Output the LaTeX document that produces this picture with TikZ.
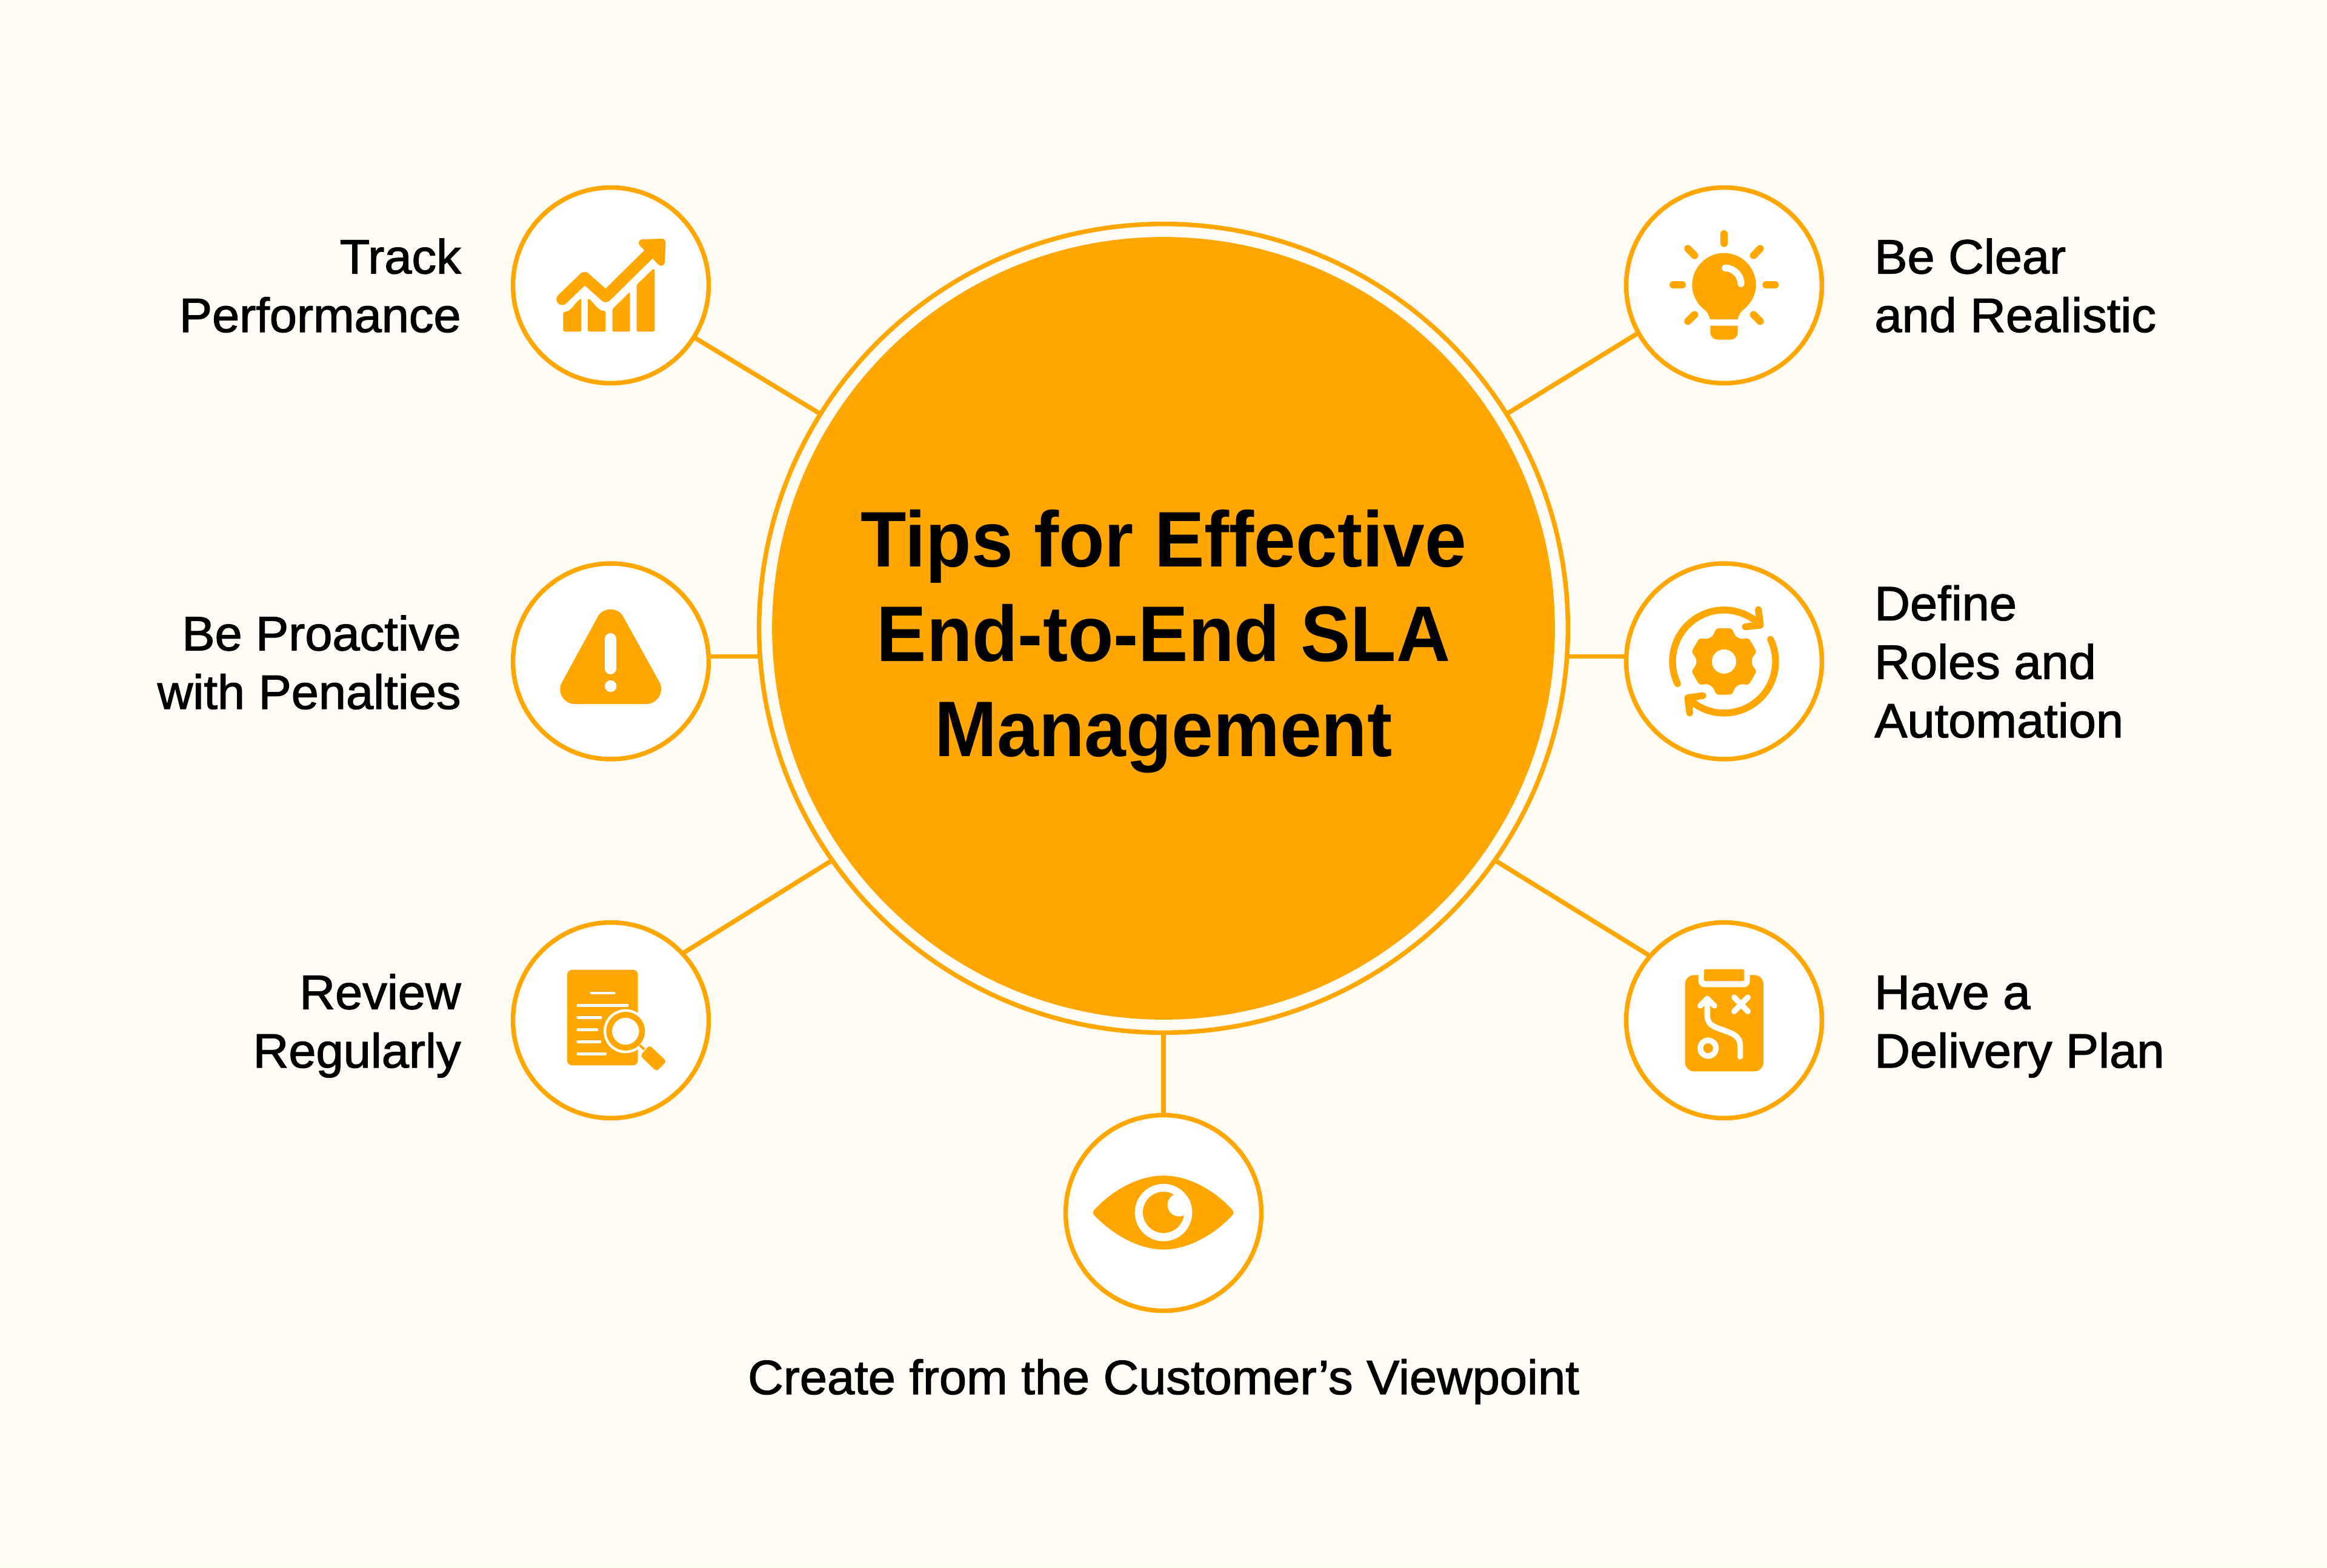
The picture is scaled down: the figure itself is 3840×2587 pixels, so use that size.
\documentclass[tikz,border=0pt]{standalone}
\usepackage{fontspec}
\setmainfont{Liberation Sans}
\newfontfamily\labelfont[FakeBold=1.6, FakeStretch=1.02]{Liberation Sans}
\newfontfamily\titlefont[FakeStretch=0.95]{Liberation Sans Bold}
\definecolor{tipsorange}{HTML}{FFA700}
\definecolor{tipspaper}{HTML}{FFFCF5}
\tikzset{
  corehub/.style={circle, fill=tipsorange, inner sep=0pt, outer sep=0pt, minimum size=25.84cm},
  corering/.style={circle, draw=tipsorange, line width=0.15cm, inner sep=0pt, outer sep=0pt, minimum size=26.70cm},
  badge/.style={circle, draw=tipsorange, fill=white, line width=0.15cm, inner sep=0pt, outer sep=0pt, minimum size=6.46cm},
  link/.style={draw=tipsorange, line width=0.15cm},
  leftlabel/.style={anchor=base east, align=right, inner sep=0pt, font=\labelfont\fontsize{45.3}{55}\selectfont},
  rightlabel/.style={anchor=base west, align=left, inner sep=0pt, font=\labelfont\fontsize{45.3}{55}\selectfont},
  midlabel/.style={anchor=base, align=center, inner sep=0pt, font=\labelfont\fontsize{45.3}{55}\selectfont},
  headline/.style={anchor=base, align=center, inner sep=0pt, font=\titlefont\fontsize{74}{89}\selectfont},
  zoomed/.style={x=0.006667cm, y=-0.006667cm},
  orangeline/.style={draw=tipsorange, line cap=round, line join=round},
  whiteline/.style={draw=white, line cap=round, line join=round}
}
\begin{document}
\begin{tikzpicture}[x=0.02cm, y=-0.02cm]
    \fill[tipspaper] (0,0) rectangle (3840,2587);
    \useasboundingbox (0,0) rectangle (3840,2587);

    \node[corering] (ring) at (1920,1037) {};
    \node[corehub] (core) at (1920,1037) {};

    \node[badge] (track) at (1008,471) {};
    \node[badge] (proactive) at (1008,1091.5) {};
    \node[badge] (review) at (1008,1684) {};
    \node[badge] (viewpoint) at (1920,2002) {};
    \node[badge] (clear) at (2845,471) {};
    \node[badge] (roles) at (2845,1091.5) {};
    \node[badge] (plan) at (2845,1684) {};

    \draw[link] (track.-32) -- (ring.148.1);
    \draw[link] (ring.184.75 -| proactive.east) -- (ring.184.75);
    \draw[link] (review.43.3) -- (ring.215.5);
    \draw[link] (viewpoint.90) -- (ring.270);
    \draw[link] (clear.209.5) -- (ring.32.1);
    \draw[link] (ring.-4.75 -| roles.west) -- (ring.-4.75);
    \draw[link] (plan.139.4) -- (ring.-35.5);

    % track
    \begin{scope}[shift={(track)}, zoomed, shift={(-534,-543)}]
      \draw[orangeline, line width=0.38cm] (293,612) -- (404,505) -- (509,598) -- (735,375);
      \fill[orangeline, fill=tipsorange, line width=0.24cm] (690,333) -- (787,330) -- (783,428) -- cycle;
      \fill[tipsorange, rounded corners=0.05cm] (298,675) .. controls (340,672) and (350,635) .. (387,607) -- (387,772) -- (298,772) -- cycle;
      \fill[tipsorange, rounded corners=0.05cm] (420,607) .. controls (450,625) and (465,668) .. (508,670) -- (508,772) -- (420,772) -- cycle;
      \fill[tipsorange, rounded corners=0.05cm] (542,660) -- (629,575) -- (629,772) -- (542,772) -- cycle;
      \fill[tipsorange, rounded corners=0.05cm] (662,540) -- (745,460) -- (751,466) -- (751,772) -- (662,772) -- cycle;
    \end{scope}

    % warning
    \begin{scope}[shift={(proactive)}, zoomed, shift={(-534,-544)}]
      \fill[tipsorange] (470,322) .. controls (495,275) and (570,275) .. (595,322) -- (775,648) .. controls (800,695) and (765,755) .. (710,755) -- (355,755) .. controls (300,755) and (265,695) .. (292,648) -- cycle;
      \draw[whiteline, line width=0.38cm] (533,433) -- (533,580);
      \fill[white] (533,667) circle [radius=29];
    \end{scope}

    % document and lens
    \begin{scope}[shift={(review)}, zoomed, shift={(-534,-552)}]
      \fill[tipsorange, rounded corners=0.16cm] (318,302) rectangle (668,775);
      \foreach \xa/\xb/\yy in {437/550/417, 371/616/478, 371/484/538, 371/465/598, 371/480/658, 371/506/718}
        \draw[whiteline, line width=0.09cm] (\xa,\yy) -- (\xb,\yy);
      \fill[white] (607,606) circle [radius=109];
      \draw[tipsorange, line width=0.193cm] (607,606) circle [radius=81.5];
      \draw[tipsorange, line width=0.08cm] (677,675) -- (700,697);
      \fill[tipsorange, rounded corners=0.09cm] (725,675) -- (810,755) -- (760,805) -- (680,728) -- cycle;
    \end{scope}

    % eye
    \begin{scope}[shift={(viewpoint)}, zoomed, shift={(-540,-546)}]
      \fill[tipsorange] (198,530) .. controls (290,430) and (420,361) .. (540,361) .. controls (660,361) and (790,430) .. (880,530) .. controls (888,540) and (888,550) .. (880,558) .. controls (790,655) and (660,727) .. (540,727) .. controls (420,727) and (290,655) .. (198,558) .. controls (190,550) and (190,540) .. (198,530) -- cycle;
      \fill[white] (540,544) circle [radius=142];
      \fill[tipsorange] (540,543) circle [radius=102];
      \fill[white] (617,506) circle [radius=57];
    \end{scope}

    % bulb
    \begin{scope}[shift={(clear)}, zoomed, shift={(-540,-543)}]
      \foreach \xa/\ya/\xb/\yb in {540/288/540/335, 288/541/333/541, 748/541/793/541, 361/361/394/395, 719/361/686/395, 361/721/394/688, 719/721/686/688}
        \draw[orangeline, line width=0.24cm] (\xa,\ya) -- (\xb,\yb);
      \fill[tipsorange] (470,711) .. controls (465,690) and (458,675) .. (445,665) .. controls (405,635) and (382,590) .. (382,541) .. controls (382,455) and (452,383) .. (540,383) .. controls (628,383) and (698,455) .. (698,541) .. controls (698,590) and (675,630) .. (640,660) .. controls (625,673) and (612,685) .. (608,711) -- cycle;
      \fill[tipsorange] (472,743) -- (608,743) -- (608,775) .. controls (608,798) and (590,812) .. (570,812) -- (510,812) .. controls (490,812) and (472,798) .. (472,775) -- cycle;
      \draw[whiteline, line width=0.227cm] (545,457) .. controls (590,457) and (624,495) .. (624,535);
    \end{scope}

    % gear and arrows
    \begin{scope}[shift={(roles)}, zoomed, shift={(-540,-544)}]
      \draw[orangeline, line width=0.227cm] (310,655) arc [start angle=154.4, end angle=305.7, radius=255];
      \draw[orangeline, line width=0.227cm] (645,373) -- (720,365) -- (710,288);
      \draw[orangeline, line width=0.227cm] (770,435) arc [start angle=-25.6, end angle=125.7, radius=255];
      \draw[orangeline, line width=0.227cm] (435,714) -- (360,725) -- (370,800);
      \fill[tipsorange, rounded corners=0.09cm, shift={(540,545)}] (16:169)
        foreach \a in {60,120,...,300} { -- ({\a-16}:169) -- ({\a-9}:142) -- (\a:135) -- ({\a+9}:142) -- ({\a+16}:169) }
        -- (-16:169) -- (-9:142) -- (0:135) -- (9:142) -- cycle;
      \fill[white] (540,545) circle [radius=60];
    \end{scope}

    % clipboard
    \begin{scope}[shift={(plan)}, zoomed, shift={(-540,-552)}]
      \fill[tipsorange, rounded corners=0.3cm] (347,328) rectangle (735,805);
      \fill[white, rounded corners=0.2cm] (413,290) rectangle (668,388);
      \fill[tipsorange, rounded corners=0.05cm] (441,299) rectangle (640,358);
      \draw[whiteline, line width=0.187cm] (620,732) -- (620,680) .. controls (620,625) and (575,615) .. (520,595) .. controls (480,580) and (457,570) .. (457,525) -- (457,445);
      \draw[whiteline, line width=0.187cm] (422,480) -- (457,445) -- (492,480);
      \draw[whiteline, line width=0.187cm] (590,438) -- (658,508);
      \draw[whiteline, line width=0.187cm] (658,438) -- (590,508);
      \draw[white, line width=0.187cm] (461,690) circle [radius=39];
    \end{scope}

    \node[headline] (title) at (1920,1248) {Tips for Effective\\End-to-End SLA\\Management};

    \node[leftlabel] (tracktext) at (761,548) {Track\\Performance};
    \node[leftlabel] (proactivetext) at (761,1170) {Be Proactive\\with Penalties};
    \node[leftlabel] (reviewtext) at (761,1762) {Review\\Regularly};
    \node[rightlabel] (cleartext) at (3093,548) {Be Clear\\and Realistic};
    \node[rightlabel] (rolestext) at (3093,1217) {Define\\Roles and\\Automation};
    \node[rightlabel] (plantext) at (3093,1762) {Have a\\Delivery Plan};
    \node[midlabel] (viewpointtext) at (1920,2301) {Create from the Customer’s Viewpoint};
\end{tikzpicture}
\end{document}
